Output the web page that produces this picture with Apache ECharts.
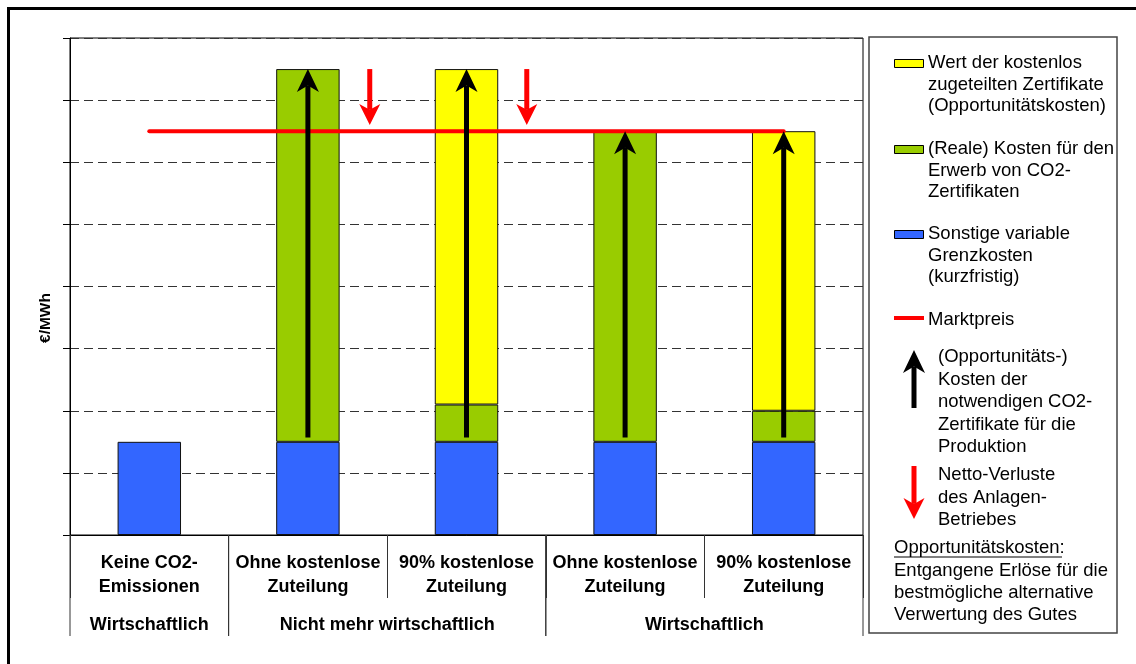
<!DOCTYPE html>
<html>
<head>
<meta charset="utf-8">
<script src="https://cdn.jsdelivr.net/npm/echarts@6.0.0/dist/echarts.min.js"></script>
<style>
html, body { margin: 0; padding: 0; background: #fff; }
#chart { width: 1136px; height: 664px; }
</style>
</head>
<body>
<div id="chart"></div>
<script>
// Kategorien (untere Achse) und Gruppen
var kategorien = ['Keine CO2-\nEmissionen', 'Ohne kostenlose\nZuteilung', '90% kostenlose\nZuteilung', 'Ohne kostenlose\nZuteilung', '90% kostenlose\nZuteilung'];
var gruppen = ['Wirtschaftlich', 'Nicht mehr wirtschaftlich', 'Wirtschaftlich'];
var gruppenVon = [-0.5, 0.5, 2.5];
var gruppenBis = [0.5, 2.5, 4.5];

// Gestapelte Kosten (€/MWh, ohne Skala)
var sonstige = [1.5, 1.5, 1.5, 1.5, 1.5];
var erwerb = ['-', 6, 0.6, 5, 0.5];
var wertFrei = ['-', '-', 5.4, '-', 4.5];

// Marktpreis-Linie
var marktpreis = 6.5;
var marktpreisVon = 0;
var marktpreisBis = 4;

// Pfeile: [x, von, bis]
var kostenPfeile = [[1, 1.57, 7.5], [2, 1.57, 7.5], [3, 1.57, 6.5], [4, 1.57, 6.5]];
var verlustPfeile = [[1.39, 7.5, 6.6], [2.38, 7.5, 6.6]];

var FONT = 'Liberation Sans, Arial, Helvetica, sans-serif';
var GELB = '#FFFF00', GRUEN = '#99CC00', BLAU = '#3366FF', ROT = '#FF0000';

function pfeil(x, tailY, tipY, color, shaftW, headW, headH) {
    var dir = tipY < tailY ? 1 : -1;
    var baseY = tipY + dir * headH;
    var notchY = tipY + dir * headH * 0.72;
    return [
        {type: 'line', shape: {x1: x, y1: tailY, x2: x, y2: notchY}, style: {stroke: color, lineWidth: shaftW}},
        {type: 'polygon', shape: {points: [[x, tipY], [x + headW / 2, baseY], [x, notchY], [x - headW / 2, baseY]]}, style: {fill: color}}
    ];
}

function pfeilSerie(color, shaftW, headW, headH) {
    return function (params, api) {
        var p0 = api.coord([api.value(0), api.value(1)]);
        var p1 = api.coord([api.value(0), api.value(2)]);
        return {type: 'group', children: pfeil(p0[0], p0[1], p1[1], color, shaftW, headW, headH)};
    };
}

function legendText(x, top, text, lh) {
    return {type: 'text', x: x, y: top, style: {text: text, fontSize: 18.5, fontFamily: FONT, fill: '#000', lineHeight: lh || 21.7, verticalAlign: 'top'}};
}

var legende = [
    {type: 'rect', shape: {x: 8.5, y: 8.5, width: 1300, height: 900}, style: {fill: 'none', stroke: '#000', lineWidth: 3}},
    {type: 'rect', shape: {x: 869, y: 37, width: 248, height: 596}, style: {fill: '#fff', stroke: '#444', lineWidth: 1.5}},
    {type: 'rect', shape: {x: 894.5, y: 59.5, width: 29, height: 8}, style: {fill: GELB, stroke: '#000', lineWidth: 1}},
    legendText(928, 52, 'Wert der kostenlos\nzugeteilten Zertifikate\n(Opportunitätskosten)'),
    {type: 'rect', shape: {x: 894.5, y: 145.5, width: 29, height: 8}, style: {fill: GRUEN, stroke: '#000', lineWidth: 1}},
    legendText(928, 138, '(Reale) Kosten für den\nErwerb von CO2-\nZertifikaten'),
    {type: 'rect', shape: {x: 894.5, y: 230.5, width: 29, height: 8}, style: {fill: BLAU, stroke: '#000', lineWidth: 1}},
    legendText(928, 223, 'Sonstige variable\nGrenzkosten\n(kurzfristig)'),
    {type: 'line', shape: {x1: 894, y1: 318, x2: 924, y2: 318}, style: {stroke: ROT, lineWidth: 4}},
    legendText(928, 309, 'Marktpreis'),
    legendText(938, 346, '(Opportunitäts-)\nKosten der\nnotwendigen CO2-\nZertifikate für die\nProduktion', 22.5),
    legendText(938, 464, 'Netto-Verluste\ndes Anlagen-\nBetriebes', 22.5),
    legendText(894, 537, 'Opportunitätskosten:\nEntgangene Erlöse für die\nbestmögliche alternative\nVerwertung des Gutes', 22.4),
    {type: 'line', shape: {x1: 894, y1: 557, x2: 1062, y2: 557}, style: {stroke: '#000', lineWidth: 1.2}},
    {type: 'text', x: 46, y: 318, rotation: Math.PI / 2, style: {text: '€/MWh', fontSize: 15.5, fontWeight: 'bold', fontFamily: FONT, fill: '#000', align: 'center', verticalAlign: 'middle'}}
].concat(pfeil(914, 408, 350, '#000', 5, 22, 23)).concat(pfeil(914, 466, 519, ROT, 5, 21, 21));

var chart = echarts.init(document.getElementById('chart'));
chart.setOption({
    animation: false,
    backgroundColor: '#fff',
    grid: {left: 70, top: 38, width: 793, height: 497, show: true, borderColor: '#000', borderWidth: 1},
    xAxis: [
        {
            type: 'category',
            data: kategorien,
            axisLine: {lineStyle: {color: '#000', width: 1}},
            axisTick: {show: true, interval: 0, length: 63, lineStyle: {color: '#333', width: 1}},
            axisLabel: {interval: 0, margin: 16, color: '#000', fontSize: 18, fontWeight: 'bold', fontFamily: FONT, lineHeight: 24}
        },
        {type: 'value', show: false, min: -0.5, max: 4.5}
    ],
    yAxis: {
        type: 'value',
        min: 0,
        max: 8,
        interval: 1,
        axisLine: {show: true, onZero: false, lineStyle: {color: '#000', width: 1}},
        axisTick: {show: true, length: 7, lineStyle: {color: '#000'}},
        axisLabel: {show: false},
        splitLine: {show: true, lineStyle: {color: '#333', type: [9, 5], width: 1}}
    },
    graphic: {elements: legende},
    series: [
        {name: 'Sonstige variable Grenzkosten', type: 'bar', stack: 'kosten', barWidth: '40%', data: sonstige, z: 2,
            itemStyle: {color: BLAU, borderColor: '#111', borderWidth: 1}},
        {name: '(Reale) Kosten für den Erwerb von CO2-Zertifikaten', type: 'bar', stack: 'kosten', barWidth: '40%', data: erwerb, z: 2,
            itemStyle: {color: GRUEN, borderColor: '#111', borderWidth: 1}},
        {name: 'Wert der kostenlos zugeteilten Zertifikate', type: 'bar', stack: 'kosten', barWidth: '40%', data: wertFrei, z: 2,
            itemStyle: {color: GELB, borderColor: '#111', borderWidth: 1}},
        {name: 'Marktpreis', type: 'line', xAxisIndex: 1, symbol: 'none', z: 3,
            data: [[marktpreisVon, marktpreis], [marktpreisBis, marktpreis]],
            lineStyle: {color: ROT, width: 4, cap: 'round'}},
        {name: 'Kostenpfeile', type: 'custom', xAxisIndex: 1, z: 4, clip: false, silent: true,
            data: kostenPfeile, renderItem: pfeilSerie('#000', 5, 22, 23)},
        {name: 'Verlustpfeile', type: 'custom', xAxisIndex: 1, z: 4, clip: false, silent: true,
            data: verlustPfeile, renderItem: pfeilSerie(ROT, 5, 21, 21)},
        {name: 'Gruppen', type: 'custom', xAxisIndex: 1, z: 4, clip: false, silent: true,
            data: gruppenVon.map(function (v, i) { return [v, gruppenBis[i], i]; }),
            renderItem: function (params, api) {
                var a = api.coord([api.value(0), 0]);
                var b = api.coord([api.value(1), 0]);
                return {type: 'group', children: [
                    {type: 'line', shape: {x1: a[0], y1: a[1], x2: a[0], y2: a[1] + 101}, style: {stroke: '#333', lineWidth: 1}},
                    {type: 'line', shape: {x1: b[0], y1: b[1], x2: b[0], y2: b[1] + 101}, style: {stroke: '#333', lineWidth: 1}},
                    {type: 'text', x: (a[0] + b[0]) / 2, y: a[1] + 90,
                        style: {text: gruppen[api.value(2)], fontSize: 18, fontWeight: 'bold', fontFamily: FONT, fill: '#000', align: 'center', verticalAlign: 'middle'}}
                ]};
            }}
    ]
});
</script>
</body>
</html>
